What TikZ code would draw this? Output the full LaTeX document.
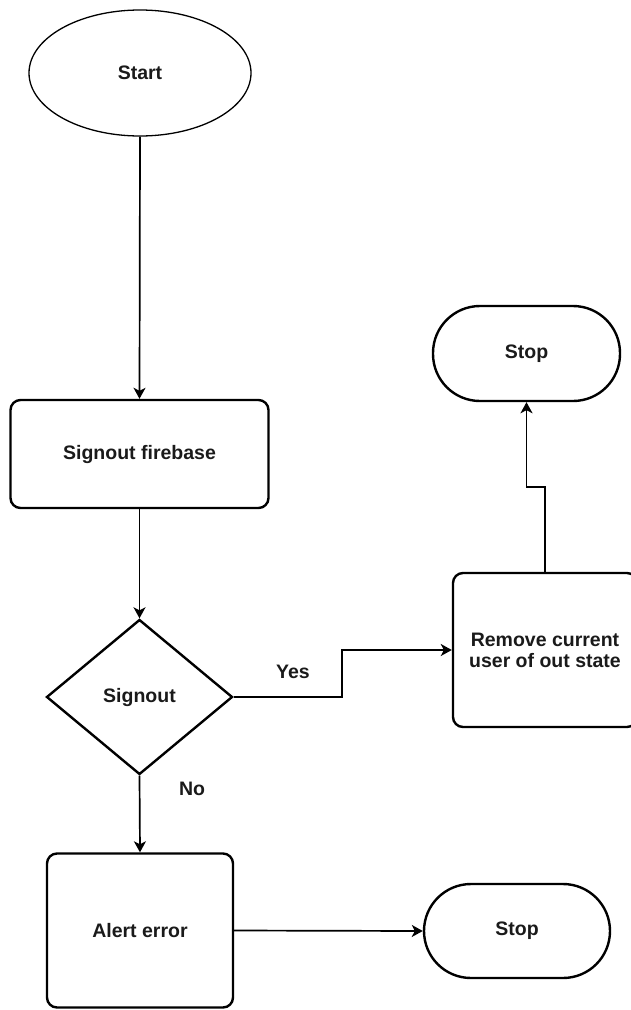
\documentclass[tikz,border=0pt]{standalone}
\usepackage{fontspec}
\setmainfont{Liberation Sans}
\usetikzlibrary{shapes.geometric,arrows.meta}

\definecolor{ink}{HTML}{1A1A1A}

\tikzset{
  every node/.style={font=\bfseries\fontsize{19.5}{21}\selectfont, text=ink, align=center, inner sep=0pt},
  shapebox/.style={draw=black, line width=2.4pt, fill=white},
  procbox/.style={shapebox, rectangle, rounded corners=10pt},
  termbox/.style={shapebox, rectangle},
  flow/.style={draw=black, line width=1.7pt, -{Stealth[length=11pt,width=12pt,inset=3pt]}},
  lbl/.style={font=\bfseries\fontsize{19.5}{21}\selectfont}
}

\begin{document}
\begin{tikzpicture}[x=1pt, y=-1pt]
  \useasboundingbox (0,0) rectangle (631,1010);

  % start terminal
  \node[ellipse, draw=black, line width=1.3pt, minimum width=222pt, minimum height=126pt] (start) at (140,73) {Start};

  % firebase sign-out step
  \node[procbox, minimum width=258pt, minimum height=108pt] (fb) at (139.5,454) {Signout firebase};

  % decision
  \node[diamond, shapebox, minimum width=186pt, minimum height=155pt, aspect=1.2] (dec) at (139.5,697) {Signout};

  % success branch
  \node[procbox, minimum width=184pt, minimum height=154pt] (rem) at (545,650) {Remove current\\user of out state};
  \node[termbox, rounded corners=47pt, minimum width=187pt, minimum height=95pt] (stopA) at (526.5,353.5) {Stop};

  % failure branch
  \node[procbox, minimum width=186pt, minimum height=154pt] (alert) at (140,930.5) {Alert error};
  \node[termbox, rounded corners=47pt, minimum width=186pt, minimum height=94pt] (stopB) at (517,931) {Stop};

  % bend points
  \coordinate (yesbend) at (342,697);
  \coordinate (upbend) at (545,487);

  % connectors
  \draw[flow] (start.south) -- (fb.north);
  \draw[flow] (fb.south) -- (dec.north);
  \draw[flow] (dec.east) -- (yesbend) |- (rem.west);
  \draw[flow] (rem.north) -- (upbend) -| (stopA.south);
  \draw[flow] (dec.south) -- (alert.north);
  \draw[flow] (alert.east) -- (stopB.west);

  % branch labels
  \node[lbl] (yes) at (293,672) {Yes};
  \node[lbl] (no) at (192,789) {No};
\end{tikzpicture}
\end{document}
